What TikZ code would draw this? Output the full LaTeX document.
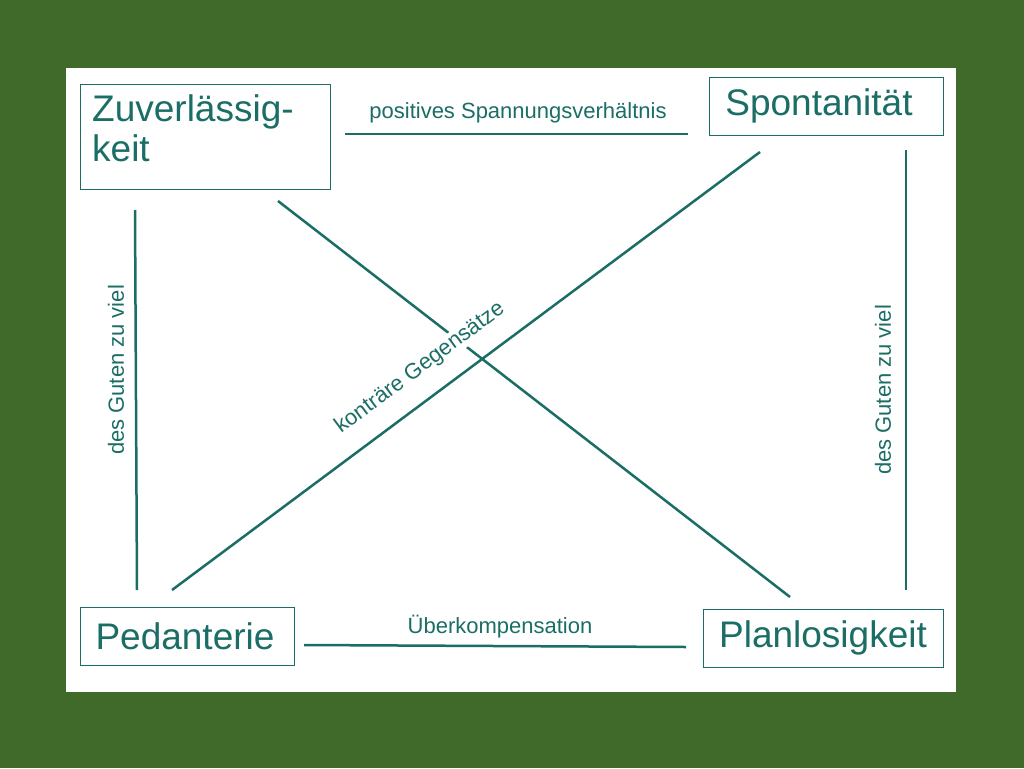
\documentclass[tikz,border=0pt]{standalone}
\usepackage{fontspec}
\setmainfont{Liberation Sans}
\usetikzlibrary{positioning}
\definecolor{teal1}{HTML}{1B6E66}
\definecolor{leaf}{HTML}{3F6A2A}
\tikzset{
  box/.style={text=teal1,font=\fontsize{37}{40}\selectfont,align=left,inner sep=0pt},
  lab/.style={text=teal1,font=\fontsize{22}{24}\selectfont,inner sep=0pt},
  link/.style={draw=teal1,line width=2.5pt},
}
\begin{document}
\begin{tikzpicture}[x=1pt,y=-1pt]
% background
\fill[leaf] (0,0) rectangle (1024,768);
\fill[white] (66,68) rectangle (956,692);

% boxes
\draw[teal1,line width=0.8pt] (80,84) rectangle (330,189);
\node[box,anchor=north west] (zuv) at (92,94) {Zuverlässig-\\keit};
\draw[teal1,line width=0.8pt] (709,77) rectangle (943,135);
\node[box] (spo) at (819,106) {Spontanität};
\draw[teal1,line width=0.8pt] (80,607) rectangle (294,665);
\node[box] (ped) at (185,636) {Pedanterie};
\draw[teal1,line width=0.8pt] (703,609) rectangle (943,667);
\node[box] (pla) at (823,638) {Planlosigkeit};

% connector ends
\coordinate (t1) at (345,134); \coordinate (t2) at (688,134);
\coordinate (b1) at (304,645); \coordinate (b2) at (686,647);
\coordinate (l1) at (135,210); \coordinate (l2) at (137,590);
\coordinate (r1) at (906,150); \coordinate (r2) at (906,590);
\coordinate (d1) at (278,201); \coordinate (d2) at (790,597);
\coordinate (e1) at (760,152); \coordinate (e2) at (172,590);

\draw[link] (t1) -- (t2);
\draw[link] (b1) -- (b2);
\draw[link] (l1) -- (l2);
\draw[link] (r1) -- (r2);
\draw[link] (d1) -- (d2);
\draw[link] (e1) -- (e2);

% labels
\node[lab] (lt) at (518,113) {positives Spannungsverhältnis};
\node[lab] (lb) at (500,627) {Überkompensation};
\node[lab,rotate=90] (ll) at (116,370) {des Guten zu viel};
\node[lab,rotate=90] (lr) at (883,390) {des Guten zu viel};
\node[lab,rotate=36.7,fill=white,inner sep=1pt] (lk) at (420,368) {konträre Gegensätze};
\end{tikzpicture}
\end{document}
